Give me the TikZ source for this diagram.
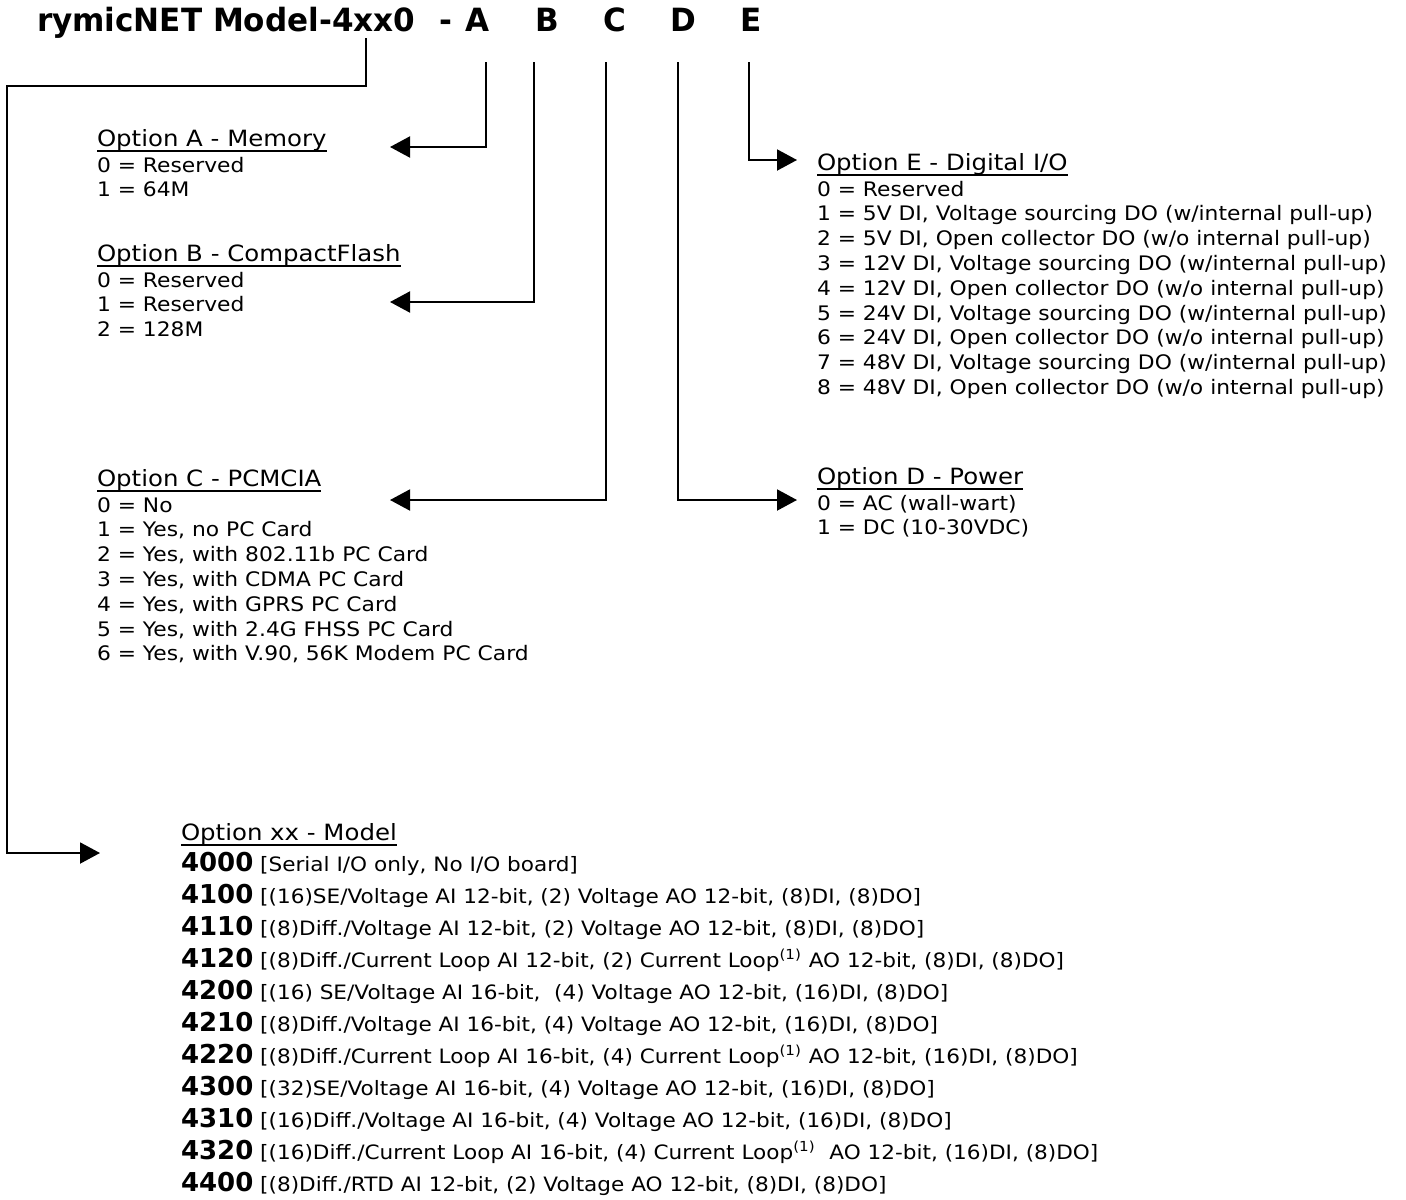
\documentclass[tikz,border=0pt]{standalone}
\usepackage{fontspec}
\setmainfont{DejaVu Sans}[FakeStretch=1.09]
\newfontfamily\numfont{DejaVu Sans}
\newfontfamily\titlefont{DejaVu Sans}[FakeStretch=0.97]
\usetikzlibrary{arrows.meta}
\newcommand{\mnum}[1]{{\numfont\fontsize{13}{16}\selectfont\bfseries #1}}
\newcommand{\cloop}{\textsuperscript{(1)}}
\newcommand{\ohead}[1]{{\fontsize{11.2}{12.4}\selectfont\setbox0\hbox{#1}%
  \rlap{\rule[-3pt]{\wd0}{1pt}}\box0}}

\begin{document}
\begin{tikzpicture}[x=0.5pt, y=-0.5pt,
  every node/.style={inner sep=0pt, outer sep=0pt},
  opt/.style={anchor=north west, align=left, font=\fontsize{10}{12.4}\selectfont},
  titletext/.style={anchor=base, font=\titlefont\fontsize{16}{19}\selectfont\bfseries},
  conn/.style={line width=1pt, -{Triangle[length=10pt, width=10.5pt]}}]
\useasboundingbox (0,0) rectangle (1406,1199);
% ---- title line
\node[titletext, anchor=base west] (title) at (37,32) {rymicNET Model-4xx0};
\node[titletext] (dash) at (446,32) {-};
\node[titletext] (lA) at (478,32) {A};
\node[titletext] (lB) at (547,32) {B};
\node[titletext] (lC) at (615,32) {C};
\node[titletext] (lD) at (683,32) {D};
\node[titletext] (lE) at (751,32) {E};
% ---- option lists
\node[opt] (optA) at (97,129) {\ohead{Option A - Memory}\\[0.6pt]
  0 = Reserved\\ 1 = 64M};
\node[opt] (optB) at (97,244) {\ohead{Option B - CompactFlash}\\[0.6pt]
  0 = Reserved\\ 1 = Reserved\\ 2 = 128M};
\node[opt] (optC) at (97,469) {\ohead{Option C - PCMCIA}\\[0.6pt]
  0 = No\\ 1 = Yes, no PC Card\\ 2 = Yes, with 802.11b PC Card\\
  3 = Yes, with CDMA PC Card\\ 4 = Yes, with GPRS PC Card\\
  5 = Yes, with 2.4G FHSS PC Card\\ 6 = Yes, with V.90, 56K Modem PC Card};
\node[opt] (optE) at (817,153) {\ohead{Option E - Digital I/O}\\[0.6pt]
  0 = Reserved\\
  1 = 5V DI, Voltage sourcing DO (w/internal pull-up)\\
  2 = 5V DI, Open collector DO (w/o internal pull-up)\\
  3 = 12V DI, Voltage sourcing DO (w/internal pull-up)\\
  4 = 12V DI, Open collector DO (w/o internal pull-up)\\
  5 = 24V DI, Voltage sourcing DO (w/internal pull-up)\\
  6 = 24V DI, Open collector DO (w/o internal pull-up)\\
  7 = 48V DI, Voltage sourcing DO (w/internal pull-up)\\
  8 = 48V DI, Open collector DO (w/o internal pull-up)};
\node[opt] (optD) at (817,467) {\ohead{Option D - Power}\\[0.6pt]
  0 = AC (wall-wart)\\ 1 = DC (10-30VDC)};
% ---- model list
\node[opt, font=\fontsize{9.9}{16}\selectfont] (optM) at (181,823) {\ohead{Option xx - Model}\\[-0.5pt]
  \mnum{4000} [Serial I/O only, No I/O board]\\
  \mnum{4100} [(16)SE/Voltage AI 12-bit, (2) Voltage AO 12-bit, (8)DI, (8)DO]\\
  \mnum{4110} [(8)Diff./Voltage AI 12-bit, (2) Voltage AO 12-bit, (8)DI, (8)DO]\\
  \mnum{4120} [(8)Diff./Current Loop AI 12-bit, (2) Current Loop\cloop{} AO 12-bit, (8)DI, (8)DO]\\
  \mnum{4200} [(16) SE/Voltage AI 16-bit,\ \ (4) Voltage AO 12-bit, (16)DI, (8)DO]\\
  \mnum{4210} [(8)Diff./Voltage AI 16-bit, (4) Voltage AO 12-bit, (16)DI, (8)DO]\\
  \mnum{4220} [(8)Diff./Current Loop AI 16-bit, (4) Current Loop\cloop{} AO 12-bit, (16)DI, (8)DO]\\
  \mnum{4300} [(32)SE/Voltage AI 16-bit, (4) Voltage AO 12-bit, (16)DI, (8)DO]\\
  \mnum{4310} [(16)Diff./Voltage AI 16-bit, (4) Voltage AO 12-bit, (16)DI, (8)DO]\\
  \mnum{4320} [(16)Diff./Current Loop AI 16-bit, (4) Current Loop\cloop\ \ AO 12-bit, (16)DI, (8)DO]\\
  \mnum{4400} [(8)Diff./RTD AI 12-bit, (2) Voltage AO 12-bit, (8)DI, (8)DO]};
% ---- connector ends
\coordinate (mTop) at (366,38);
\coordinate (mBend) at (7,86);
\coordinate (mTip) at (100,853);
\coordinate (topA) at (486,62);  \coordinate (tipA) at (390,147);
\coordinate (topB) at (534,62);  \coordinate (tipB) at (390,302);
\coordinate (topC) at (606,62);  \coordinate (tipC) at (390,500);
\coordinate (topD) at (678,62);  \coordinate (tipD) at (797,500);
\coordinate (topE) at (749,62);  \coordinate (tipE) at (797,160);
% ---- connectors
\draw[conn] (mTop) |- (mBend) |- (mTip);
\draw[conn] (topA) |- (tipA);
\draw[conn] (topB) |- (tipB);
\draw[conn] (topC) |- (tipC);
\draw[conn] (topD) |- (tipD);
\draw[conn] (topE) |- (tipE);
\end{tikzpicture}
\end{document}
